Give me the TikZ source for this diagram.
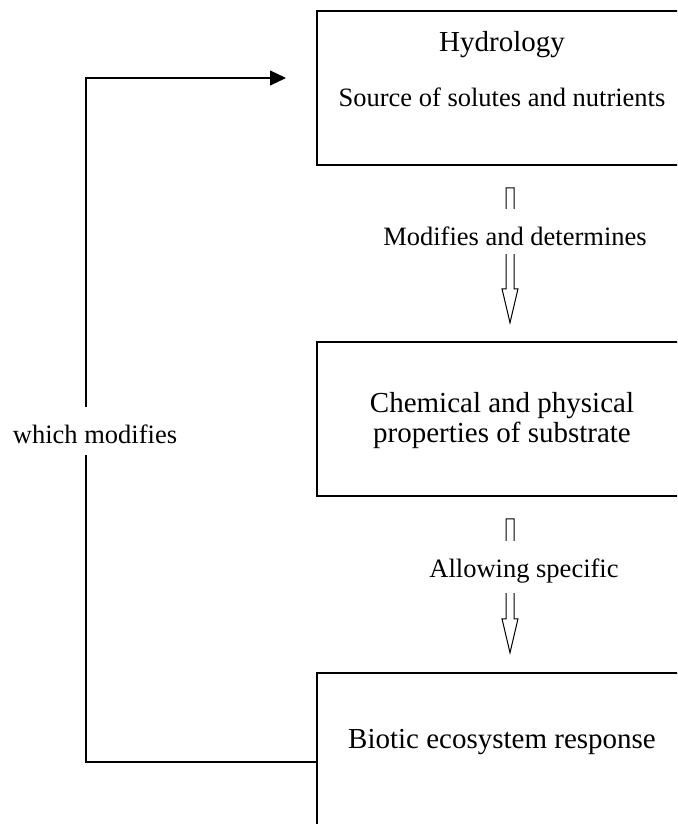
\documentclass[tikz,border=0pt]{standalone}
\usepackage{fontspec}
\setmainfont{Liberation Serif}
\usetikzlibrary{arrows.meta}

\begin{document}
\begin{tikzpicture}[x=0.5pt, y=-0.5pt,
    box/.style={draw, line width=0.75pt, minimum width=185pt, minimum height=77pt, inner sep=0pt},
    big/.style={font=\fontsize{14.5pt}{15pt}\selectfont, align=center},
    small/.style={font=\fontsize{13.25pt}{15pt}\selectfont},
    gaplabel/.style={small, fill=white, inner sep=0pt, text height=18pt, text depth=4.5pt, anchor=base},
    hollow/.style={draw, line width=0.5pt, fill=white},
    loopline/.style={draw, line width=0.6pt, -{Triangle[length=8pt,width=7.5pt]}}]
\useasboundingbox (0,0) rectangle (677,824);
\clip (0,0) rectangle (677,824);
\node[box] (hyd) at (502,88) {};
\node[box] (chem) at (502,419) {};
\node[box] (bio) at (502,750) {};
\node[big, anchor=base] (hydtitle) at (502,52) {Hydrology};
\node[small, anchor=base] (hydsub) at (502,107) {Source of solutes and nutrients};
\node[big] (chemtxt) at (502,421) {Chemical and physical\\properties of substrate};
\node[big, anchor=base] (biotxt) at (502,748) {Biotic ecosystem response};
\path (hyd.south) ++(8,22) coordinate (modtop);
\path (chem.south) ++(8,22) coordinate (allowtop);
\draw[hollow] (modtop) ++(-4,0) -- ++(8,0) -- ++(0,101) -- ++(4,0) -- ++(-8,34) -- ++(-8,-34) -- ++(4,0) -- cycle;
\draw[hollow] (allowtop) ++(-4,0) -- ++(8,0) -- ++(0,100) -- ++(4,0) -- ++(-8,34) -- ++(-8,-34) -- ++(4,0) -- cycle;
\node[gaplabel] (modlbl) at (515,245) {Modifies and determines};
\node[gaplabel, text depth=8pt] (allowlbl) at (524,577) {Allowing specific};
\coordinate (fbcorner) at (86,762);
\coordinate (fbtip) at (286,78);
\draw[loopline] (bio.west |- fbcorner) -- (fbcorner) |- (fbtip);
\node[gaplabel, text depth=6pt] (whichlbl) at (95,443) {which modifies};
\end{tikzpicture}
\end{document}
